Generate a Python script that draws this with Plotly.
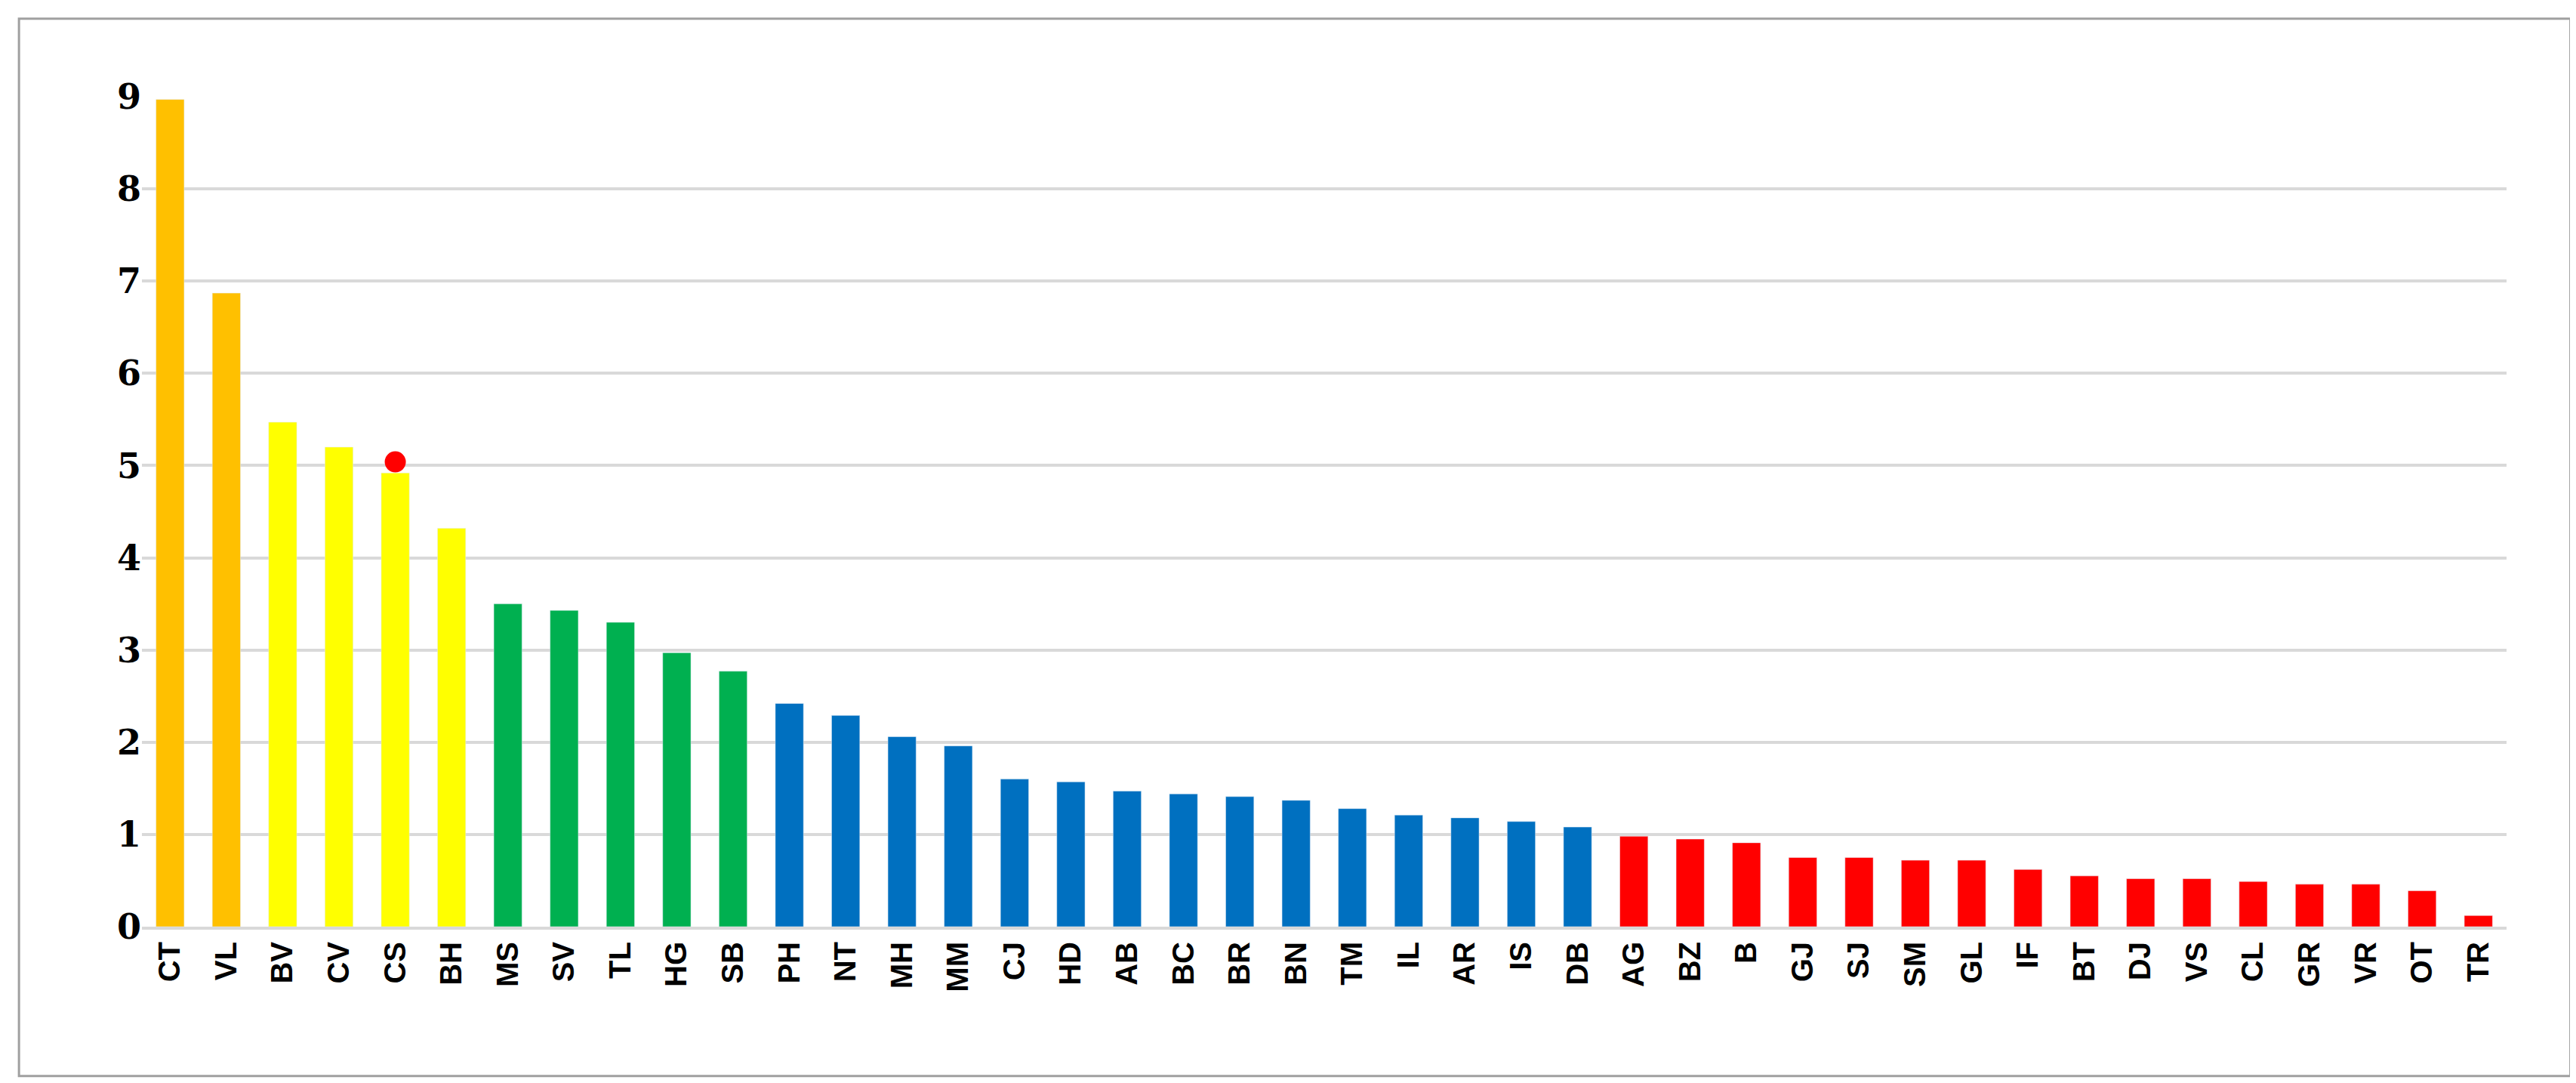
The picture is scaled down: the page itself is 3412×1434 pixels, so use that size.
import plotly.graph_objects as go

cats = ["CT","VL","BV","CV","CS","BH","MS","SV","TL","HG","SB","PH","NT","MH","MM","CJ","HD","AB","BC","BR","BN","TM","IL","AR","IS","DB","AG","BZ","B","GJ","SJ","SM","GL","IF","BT","DJ","VS","CL","GR","VR","OT","TR"]
vals = [8.97,6.87,5.47,5.2,4.92,4.32,3.5,3.43,3.3,2.97,2.77,2.42,2.29,2.06,1.96,1.6,1.57,1.47,1.44,1.41,1.37,1.28,1.21,1.18,1.14,1.08,0.98,0.95,0.91,0.75,0.75,0.72,0.72,0.62,0.55,0.52,0.52,0.49,0.46,0.46,0.39,0.12]
groups = [0,0,1,1,1,1,2,2,2,2,2] + [3]*15 + [4]*16
palette = ["#FFC000","#FFFF00","#00B050","#0070C0","#FF0000"]
dot_cat = ["CS"]
dot_val = [5.04]

fig = go.Figure()
fig.add_bar(x=cats, y=vals, marker_color=[palette[g] for g in groups], width=0.5, showlegend=False)
fig.add_scatter(x=dot_cat, y=dot_val, mode="markers", marker=dict(color="#FF0000", size=28), showlegend=False)
fig.update_layout(
    width=3412, height=1434, paper_bgcolor="white", plot_bgcolor="white",
    margin=dict(l=180, r=100, t=120, b=215),
    bargap=0.5,
    yaxis=dict(range=[0, 9], dtick=1, gridcolor="#D9D9D9", gridwidth=4, zeroline=False,
               showline=False, ticks="", tickfont=dict(family="DejaVu Serif", size=46, color="black"),
               tickprefix="<b>", ticksuffix="</b>"),
    xaxis=dict(tickangle=-90, tickfont=dict(family="Liberation Sans", size=40, color="black"),
               tickprefix="<b>", ticksuffix="</b>", showline=True, linecolor="#D9D9D9", linewidth=4),
    shapes=[dict(type="rect", xref="paper", yref="paper", x0=-0.052, x1=1.027, y0=-0.18, y1=1.094,
                 line=dict(color="#A0A0A0", width=3))],
)
fig.write_html("out.html")
